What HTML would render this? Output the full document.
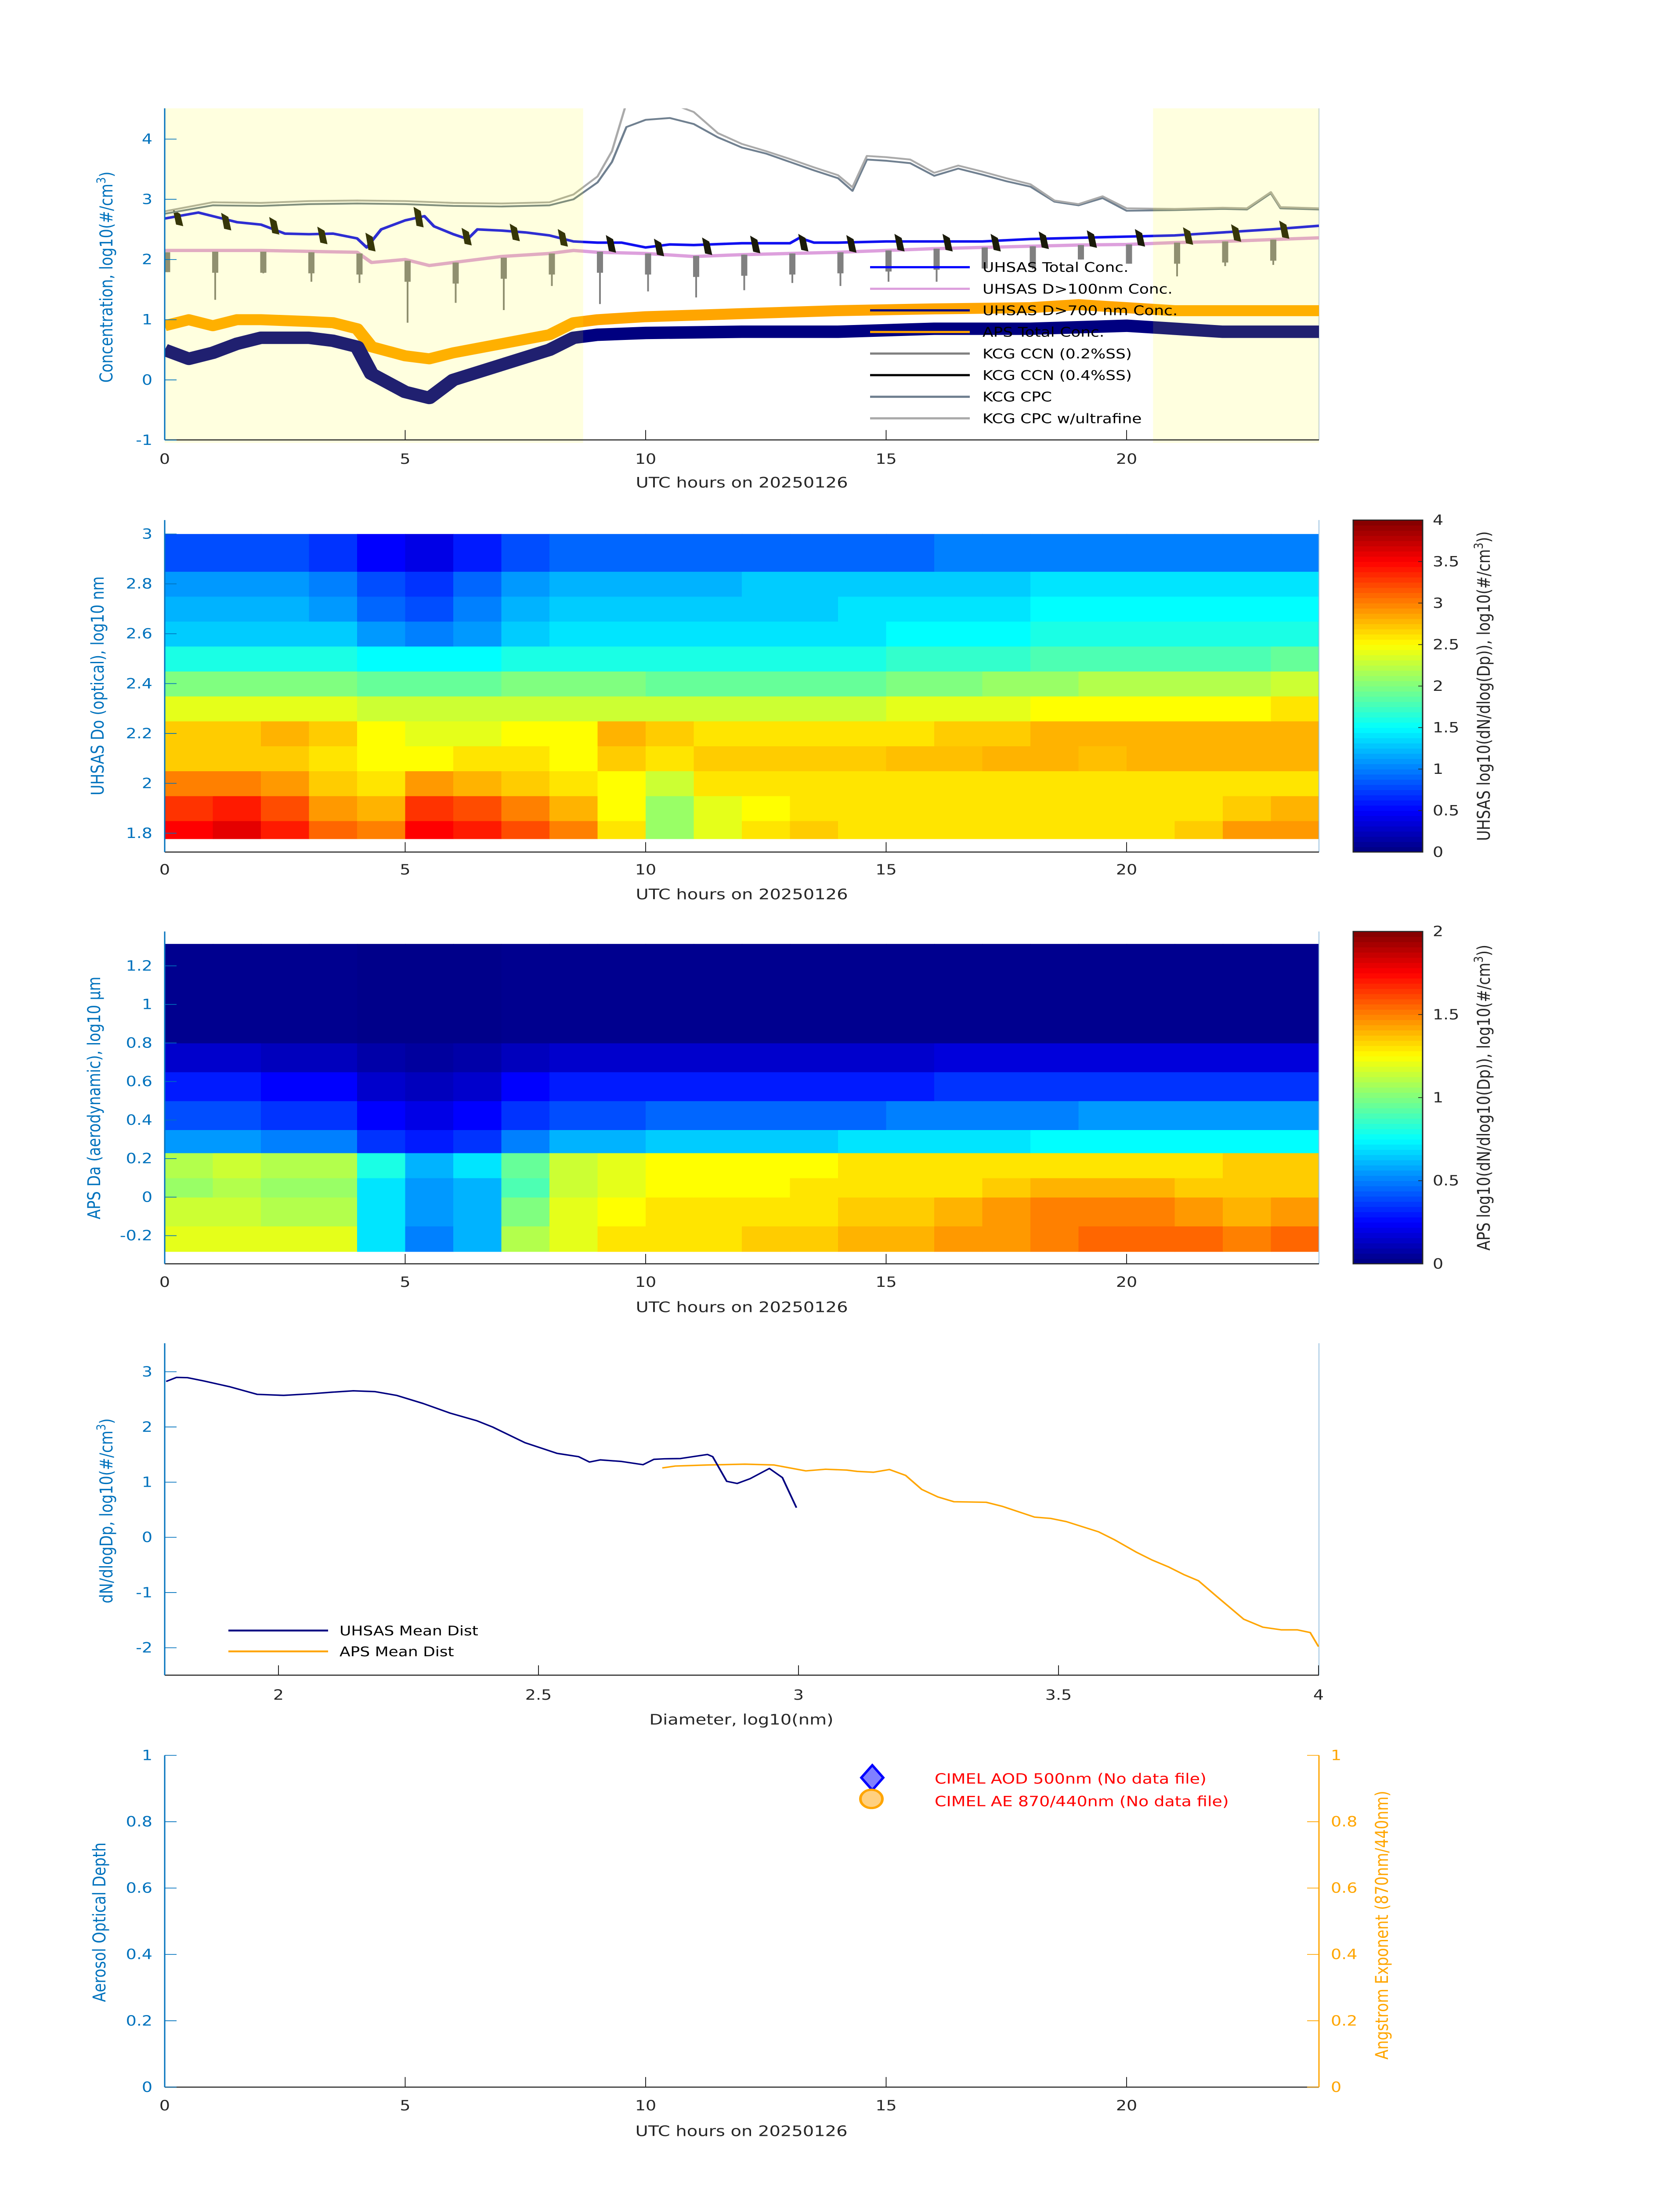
<!DOCTYPE html>
<html><head><meta charset="utf-8"><title>Aerosol summary 20250126</title>
<style>
html,body{margin:0;padding:0;background:#fff;width:100vw;height:100vh;overflow:hidden}
svg{display:block;width:100vw;height:100vh}
text{font-family:"DejaVu Sans","Liberation Sans",sans-serif}
</style></head>
<body>
<svg id="chart" xmlns="http://www.w3.org/2000/svg" viewBox="0 0 3825 6000" preserveAspectRatio="none">
<rect x="0" y="0" width="3825" height="6000" fill="#fff"/>
<defs>
<clipPath id="clip1"><rect x="375" y="296" width="2628" height="906"/></clipPath>
<clipPath id="clip4"><rect x="375" y="3670" width="2628" height="907"/></clipPath>
</defs>
<g id="p1"></g>
<g id="p2"></g>
<g id="p3"></g>
<g id="p4"></g>
<g id="p5"></g>
</svg>
<script>
// ---------------- Panel 1 data ----------------
const cpcTimes = [0,1,2,3,4,5,6,7,8,8.5,9,9.3,9.6,10,10.5,11,11.5,12,12.5,13,13.5,14,14.3,14.6,15,15.5,16,16.5,17,17.5,18,18.5,19,19.5,20,21,22,22.5,23,23.2,24];
const cpcVals = [2.76,2.9,2.89,2.92,2.93,2.92,2.89,2.88,2.9,3.0,3.28,3.62,4.2,4.32,4.35,4.25,4.03,3.86,3.76,3.62,3.48,3.35,3.14,3.66,3.64,3.6,3.39,3.51,3.41,3.3,3.21,2.96,2.9,3.02,2.81,2.82,2.84,2.83,3.1,2.85,2.83];
const cpcUfVals = [2.8,2.95,2.94,2.97,2.98,2.97,2.94,2.93,2.95,3.08,3.38,3.8,4.6,4.6,4.6,4.45,4.1,3.92,3.8,3.67,3.53,3.4,3.2,3.72,3.7,3.66,3.44,3.56,3.46,3.35,3.25,2.98,2.92,3.05,2.85,2.84,2.86,2.85,3.12,2.87,2.85];
const blueTimes = [0,0.7,1.5,2,2.5,3,3.5,4,4.2,4.5,5,5.4,5.6,6,6.3,6.5,7,7.5,8,8.5,9,9.5,10,10.5,11,12,13,13.2,13.5,14,15,16,17,18,19,20,21,22,23,24];
const blueVals = [2.68,2.78,2.62,2.58,2.43,2.42,2.43,2.35,2.2,2.5,2.65,2.72,2.55,2.42,2.34,2.5,2.48,2.45,2.4,2.3,2.28,2.28,2.2,2.25,2.24,2.27,2.27,2.36,2.28,2.28,2.3,2.3,2.3,2.34,2.36,2.38,2.4,2.45,2.5,2.56];
const pinkTimes = [0,2,4,4.3,5,5.5,6,6.5,7,8,8.5,9,10,11,12,13,14,15,16,17,18,19,20,21,22,23,24];
const pinkVals = [2.15,2.15,2.12,1.95,2.0,1.9,1.95,2.0,2.05,2.1,2.15,2.12,2.1,2.05,2.08,2.1,2.12,2.15,2.18,2.2,2.22,2.24,2.25,2.28,2.3,2.33,2.36];
const apsTimes = [0,0.5,1,1.5,2,3,3.5,4,4.3,5,5.5,6,7,8,8.5,9,10,12,14,16,18,19,20,21,22,23,24];
const apsVals = [0.9,1.0,0.9,1.0,1.0,0.97,0.95,0.85,0.55,0.4,0.35,0.45,0.6,0.75,0.95,1.0,1.05,1.1,1.15,1.18,1.2,1.25,1.2,1.15,1.15,1.15,1.15];
const navyTimes = [0,0.5,1,1.5,2,3,3.5,4,4.3,5,5.5,6,7,8,8.5,9,10,12,14,16,18,20,21,22,23,24];
const navyVals = [0.5,0.35,0.45,0.6,0.7,0.7,0.65,0.55,0.1,-0.2,-0.3,0.0,0.25,0.5,0.7,0.75,0.78,0.8,0.8,0.85,0.85,0.9,0.85,0.8,0.8,0.8];
const ccn02Times = [0.05,1.05,2.05,3.05,4.05,5.05,6.05,7.05,8.05,9.05,10.05,11.05,12.05,13.05,14.05,15.05,16.05,17.05,18.05,19.05,20.05,21.05,22.05,23.05];
const ccn02Base = [2.12,2.13,2.13,2.12,2.1,1.98,1.95,2.03,2.1,2.13,2.1,2.06,2.08,2.1,2.12,2.15,2.18,2.2,2.22,2.24,2.25,2.28,2.3,2.33];
const ccn02Min = [1.79,1.33,1.77,1.63,1.61,0.95,1.28,1.16,1.56,1.26,1.47,1.37,1.49,1.61,1.56,1.63,1.63,1.84,1.84,2.0,1.93,1.72,1.89,1.91];
const ccn04Times = [0.27,1.27,2.27,3.27,4.27,5.27,6.27,7.27,8.27,9.27,10.27,11.27,12.27,13.27,14.27,15.27,16.27,17.27,18.27,19.27,20.27,21.27,22.27,23.27];
const ccn04Hi = [2.8,2.75,2.68,2.52,2.42,2.85,2.5,2.57,2.48,2.38,2.32,2.34,2.37,2.4,2.38,2.4,2.4,2.4,2.44,2.46,2.48,2.51,2.56,2.62];
const ccn04Lo = [2.57,2.5,2.43,2.27,2.15,2.55,2.25,2.32,2.23,2.13,2.07,2.09,2.12,2.15,2.13,2.15,2.15,2.15,2.19,2.21,2.23,2.26,2.31,2.36];
const shadeStart = [0, 20.55];
const shadeEnd = [8.7, 24];
const p1YTicks = [-1,0,1,2,3,4];
const hourTicks = [0,5,10,15,20];
const p1LegendLabels = ["UHSAS Total Conc.","UHSAS D>100nm Conc.","UHSAS D>700 nm Conc.","APS Total Conc.","KCG CCN (0.2%SS)","KCG CCN (0.4%SS)","KCG CPC","KCG CPC w/ultrafine"];
const p1LegendColors = ["#0000ff","#dda0dd","#000080","#ffa500","#808080","#000000","#708090","#aaaaaa"];

// ---------------- Panel 2 data (UHSAS heatmap, rows bottom->top, hourly columns) ----------------
const uhsasEdges = [1.778,1.85,1.95,2.05,2.15,2.25,2.35,2.45,2.55,2.65,2.75,2.85,3.0];
const uhsasGrid = [
[3.5,3.6,3.4,3.1,3.0,3.5,3.4,3.2,3.0,2.6,2.1,2.4,2.6,2.7,2.6,2.6,2.6,2.6,2.6,2.6,2.6,2.7,2.9,2.9],
[3.3,3.4,3.2,2.9,2.8,3.3,3.2,3.0,2.8,2.5,2.1,2.4,2.5,2.6,2.6,2.6,2.6,2.6,2.6,2.6,2.6,2.6,2.7,2.8],
[3.0,3.0,2.9,2.7,2.6,2.9,2.8,2.7,2.6,2.5,2.3,2.6,2.6,2.6,2.6,2.6,2.6,2.6,2.6,2.6,2.6,2.6,2.6,2.6],
[2.7,2.7,2.7,2.6,2.5,2.5,2.6,2.6,2.5,2.7,2.6,2.7,2.7,2.7,2.7,2.75,2.75,2.8,2.8,2.75,2.8,2.8,2.8,2.8],
[2.7,2.7,2.8,2.7,2.5,2.4,2.4,2.5,2.5,2.8,2.7,2.6,2.6,2.6,2.6,2.6,2.7,2.7,2.8,2.8,2.8,2.8,2.8,2.8],
[2.4,2.4,2.4,2.4,2.3,2.3,2.3,2.3,2.3,2.3,2.3,2.3,2.3,2.3,2.3,2.4,2.4,2.4,2.5,2.5,2.5,2.5,2.5,2.6],
[2.0,2.0,2.0,2.0,1.9,1.9,1.9,2.0,2.0,2.0,1.9,1.9,1.9,1.9,1.9,2.0,2.0,2.1,2.1,2.2,2.2,2.2,2.2,2.3],
[1.6,1.6,1.6,1.6,1.5,1.5,1.5,1.6,1.6,1.6,1.6,1.6,1.6,1.6,1.6,1.7,1.7,1.7,1.8,1.8,1.8,1.8,1.8,1.9],
[1.3,1.3,1.3,1.3,1.1,1.0,1.1,1.3,1.4,1.4,1.4,1.4,1.4,1.4,1.4,1.5,1.5,1.5,1.6,1.6,1.6,1.6,1.6,1.6],
[1.2,1.2,1.2,1.1,0.9,0.8,1.0,1.2,1.3,1.3,1.3,1.3,1.3,1.3,1.4,1.4,1.4,1.4,1.5,1.5,1.5,1.5,1.5,1.5],
[1.1,1.1,1.1,1.0,0.8,0.7,0.9,1.1,1.2,1.2,1.2,1.2,1.3,1.3,1.3,1.3,1.3,1.3,1.4,1.4,1.4,1.4,1.4,1.4],
[0.8,0.8,0.8,0.7,0.5,0.4,0.6,0.8,0.9,0.9,0.9,0.9,0.9,0.9,0.9,0.9,1.0,1.0,1.0,1.0,1.0,1.0,1.0,1.0]
];
const uhsasYTicks = [1.8,2,2.2,2.4,2.6,2.8,3];
const uhsasCbTicks = [0,0.5,1,1.5,2,2.5,3,3.5,4];

// ---------------- Panel 3 data (APS heatmap) ----------------
const apsEdges = [-0.282,-0.15,0,0.1,0.23,0.35,0.5,0.65,0.8,1.314];
const apsGrid = [
[1.2,1.2,1.2,1.2,0.7,0.5,0.6,1.1,1.2,1.3,1.3,1.3,1.35,1.35,1.4,1.4,1.45,1.45,1.5,1.55,1.55,1.55,1.5,1.55],
[1.15,1.15,1.1,1.1,0.7,0.55,0.6,1.0,1.2,1.25,1.3,1.3,1.3,1.3,1.35,1.35,1.4,1.45,1.5,1.5,1.5,1.45,1.4,1.45],
[1.05,1.1,1.05,1.05,0.7,0.55,0.6,0.9,1.15,1.2,1.25,1.25,1.25,1.3,1.3,1.3,1.3,1.35,1.4,1.4,1.4,1.35,1.35,1.35],
[1.1,1.15,1.1,1.1,0.8,0.6,0.7,0.95,1.15,1.2,1.25,1.25,1.25,1.25,1.3,1.3,1.3,1.3,1.3,1.3,1.3,1.3,1.35,1.35],
[0.55,0.55,0.5,0.5,0.35,0.3,0.35,0.5,0.6,0.6,0.65,0.65,0.65,0.65,0.7,0.7,0.7,0.7,0.75,0.75,0.75,0.75,0.75,0.75],
[0.4,0.4,0.35,0.35,0.25,0.2,0.25,0.35,0.4,0.4,0.45,0.45,0.45,0.45,0.45,0.5,0.5,0.5,0.5,0.55,0.55,0.55,0.55,0.55],
[0.3,0.3,0.25,0.25,0.15,0.12,0.15,0.25,0.3,0.3,0.3,0.3,0.3,0.3,0.3,0.3,0.35,0.35,0.35,0.35,0.35,0.35,0.35,0.35],
[0.15,0.15,0.12,0.12,0.08,0.06,0.08,0.12,0.15,0.15,0.15,0.15,0.15,0.15,0.15,0.15,0.18,0.18,0.18,0.18,0.18,0.18,0.18,0.18],
[0.03,0.03,0.03,0.03,0.02,0.02,0.02,0.03,0.03,0.03,0.03,0.03,0.03,0.03,0.03,0.03,0.03,0.03,0.03,0.03,0.03,0.03,0.03,0.03]
];
const apsYTicks = [-0.2,0,0.2,0.4,0.6,0.8,1,1.2];
const apsCbTicks = [0,0.5,1,1.5,2];

// ---------------- Panel 4 data ----------------
const uhsasDiam = [1.784,1.804,1.825,1.856,1.907,1.959,2.010,2.062,2.103,2.144,2.186,2.227,2.278,2.330,2.381,2.412,2.474,2.536,2.577,2.598,2.619,2.660,2.701,2.722,2.742,2.773,2.825,2.835,2.862,2.882,2.907,2.944,2.969,2.996];
const uhsasMean = [2.825,2.898,2.893,2.835,2.727,2.591,2.572,2.601,2.630,2.655,2.640,2.572,2.426,2.251,2.114,1.998,1.715,1.521,1.462,1.365,1.404,1.375,1.316,1.414,1.423,1.428,1.501,1.462,1.015,0.976,1.063,1.248,1.083,0.538];
const apsDiam = [2.738,2.763,2.825,2.897,2.953,3.014,3.052,3.093,3.113,3.144,3.175,3.206,3.237,3.268,3.299,3.361,3.392,3.454,3.485,3.515,3.577,3.608,3.649,3.680,3.711,3.742,3.769,3.804,3.856,3.893,3.928,3.959,3.984,4.0];
const apsMean = [1.258,1.292,1.311,1.326,1.311,1.204,1.234,1.219,1.195,1.180,1.229,1.122,0.869,0.732,0.645,0.635,0.562,0.367,0.343,0.285,0.100,-0.046,-0.265,-0.411,-0.533,-0.679,-0.786,-1.068,-1.482,-1.628,-1.676,-1.676,-1.725,-1.98];
const p4XTicks = [2,2.5,3,3.5,4];
const p4YTicks = [-2,-1,0,1,2,3];

// ---------------- Panel 5 data ----------------
const p5YTicks = [0,0.2,0.4,0.6,0.8,1];

// ---------------- helpers ----------------
const NS = 'http://www.w3.org/2000/svg';
function mk(tag, attrs, parent) {
  const e = document.createElementNS(NS, tag);
  for (const k in attrs) e.setAttribute(k, attrs[k]);
  parent.appendChild(e);
  return e;
}
function txt(parent, x, y, s, size, color, anchor, extra) {
  const e = mk('text', Object.assign({x: x, y: y, 'font-size': size, fill: color, 'text-anchor': anchor || 'middle'}, extra || {}), parent);
  e.textContent = s;
  return e;
}
function fmt(v) { return (Math.round(v * 10) / 10).toString(); }
function jet(t) {
  t = Math.max(0, Math.min(1, t));
  const c = f => Math.round(255 * Math.max(0, Math.min(1, f)));
  return 'rgb(' + c(1.5 - Math.abs(4 * t - 3)) + ',' + c(1.5 - Math.abs(4 * t - 2)) + ',' + c(1.5 - Math.abs(4 * t - 1)) + ')';
}
function pathD(xsArr, ysArr, fx, fy) {
  let d = '';
  for (let i = 0; i < xsArr.length; i++) d += (i ? 'L' : 'M') + fx(xsArr[i]).toFixed(1) + ',' + fy(ysArr[i]).toFixed(1);
  return d;
}
const AX_L = 375, AX_R = 3003;
const BLUE = '#0072BD', DARK = '#262626';
const xh = h => AX_L + h * (AX_R - AX_L) / 24;

function hourAxis(g, yBottom, yTop, tickLabelY, labelY) {
  const ax = mk('line', {x1: AX_L, y1: yBottom, x2: AX_R, y2: yBottom, stroke: DARK, 'stroke-width': 3}, g);
  
  
  hourTicks.forEach(h => {
    const t = mk('line', {x1: xh(h), y1: yBottom, x2: xh(h), y2: yBottom - 27, stroke: DARK, 'stroke-width': 2}, g);
    
    
    const l = txt(g, xh(h), tickLabelY, String(h), 38, DARK);
    
    
  });
  const xl = txt(g, (AX_L + AX_R) / 2, labelY, 'UTC hours on 20250126', 40, DARK);
  
  
  const la = mk('line', {x1: AX_L, y1: yTop, x2: AX_L, y2: yBottom, stroke: BLUE, 'stroke-width': 3}, g);
  
  
}
function yTicks(g, ticks, fy, digits) {
  ticks.forEach(v => {
    const t = mk('line', {x1: AX_L, y1: fy(v), x2: AX_L + 27, y2: fy(v), stroke: BLUE, 'stroke-width': 2}, g);
    
    
    const l = txt(g, 347, fy(v) + 13, digits ? fmt(v) : String(v), 38, BLUE, 'end');
    
    
  });
}
function yTitle(g, x, y, s, color, sup) {
  const e = mk('text', {x: x, y: y, 'font-size': 40, fill: color, 'text-anchor': 'middle', transform: 'rotate(-90 ' + x + ' ' + y + ')'}, g);
  e.appendChild(document.createTextNode(s));
  if (sup) {
    const sp = mk('tspan', {'baseline-shift': 'super', 'font-size': 28}, e);
    sp.textContent = '3';
    e.appendChild(document.createTextNode(sup));
  }
  return e;
}

// ---------------- Panel 1 ----------------
(function () {
  const g = document.getElementById('p1');
  const fy = v => 1038 - v * 164.5;
  const rb = mk('line', {x1: AX_R, y1: 296, x2: AX_R, y2: 1202, stroke: '#bcd', 'stroke-width': 2}, g);
  
  
  const cg = mk('g', {'clip-path': 'url(#clip1)'}, g);
  
  
  const s1 = mk('path', {d: pathD(apsTimes, apsVals, xh, fy), fill: 'none', stroke: '#ffa500', 'stroke-width': 30, 'stroke-linejoin': 'round'}, cg);
  
  
  const s2 = mk('path', {d: pathD(navyTimes, navyVals, xh, fy), fill: 'none', stroke: '#000080', 'stroke-width': 34, 'stroke-linejoin': 'round'}, cg);
  
  
  const s3 = mk('path', {d: pathD(pinkTimes, pinkVals, xh, fy), fill: 'none', stroke: '#dda0dd', 'stroke-width': 9, 'stroke-linejoin': 'round'}, cg);
  
  
  const s4 = mk('path', {d: pathD(blueTimes, blueVals, xh, fy), fill: 'none', stroke: '#1010f0', 'stroke-width': 7, 'stroke-linejoin': 'round'}, cg);
  
  
  ccn02Times.forEach((t, i) => {
    const th = mk('rect', {x: xh(t) - 7, y: fy(ccn02Base[i]), width: 14, height: Math.max(0, Math.min(0.35, ccn02Base[i] - ccn02Min[i])) * 164.5, fill: '#808080'}, cg);
    
    
    const ln = mk('line', {x1: xh(t), y1: fy(ccn02Base[i]), x2: xh(t), y2: fy(ccn02Min[i]), stroke: '#808080', 'stroke-width': 4}, cg);
    
    
  });
  ccn04Times.forEach((t, i) => {
    const x = xh(t);
    const p = mk('polygon', {points: (x - 8) + ',' + fy(ccn04Hi[i]) + ' ' + (x + 4) + ',' + fy(ccn04Hi[i] - 0.05) + ' ' + (x + 10) + ',' + fy(ccn04Lo[i]) + ' ' + (x - 2) + ',' + fy(ccn04Lo[i] + 0.02), fill: '#1a1a0a', stroke: '#1a1a0a', 'stroke-width': 4}, cg);
    
    
  });
  const s5 = mk('path', {d: pathD(cpcTimes, cpcVals, xh, fy), fill: 'none', stroke: '#708090', 'stroke-width': 5, 'stroke-linejoin': 'round'}, cg);
  
  
  const s6 = mk('path', {d: pathD(cpcTimes, cpcUfVals, xh, fy), fill: 'none', stroke: '#aaaaaa', 'stroke-width': 5, 'stroke-linejoin': 'round'}, cg);
  
  
  shadeStart.forEach((s, i) => {
    const r = mk('rect', {x: xh(s), y: 296, width: xh(shadeEnd[i]) - xh(s), height: 914, fill: 'rgb(255,255,0)', 'fill-opacity': 0.125}, g);
    
    
  });
  hourAxis(g, 1202, 296, 1267, 1332);
  yTicks(g, p1YTicks, fy, false);
  const yt = yTitle(g, 256, 757, 'Concentration, log10(#/cm', BLUE, ')');
  
  
  p1LegendLabels.forEach((lab, i) => {
    const y = 730 + i * 59;
    const ln = mk('line', {x1: 1981, y1: y, x2: 2208, y2: y, stroke: p1LegendColors[i], 'stroke-width': 6}, g);
    
    
    const t = txt(g, 2237, y + 13, lab, 36, '#000', 'start');
    
    
  });
})();

// ---------------- heatmap builder ----------------
function heatmap(g, edges, grid, fy, vmax, cbTicks, yTop, yBot, dataTop, dataBot, cbLabel, cbLabelName) {
  const cw = (AX_R - AX_L) / 24;
  grid.forEach((row, r) => {
    row.forEach((v, c) => {
      const y1 = fy(edges[r + 1]), y2 = fy(edges[r]);
      const cell = mk('rect', {x: (xh(c)).toFixed(1), y: y1.toFixed(1), width: (cw + 1).toFixed(1), height: (y2 - y1 + 1).toFixed(1), fill: jet(v / vmax)}, g);
      
      
    });
  });
  const rb = mk('line', {x1: AX_R, y1: yTop, x2: AX_R, y2: yBot, stroke: '#9cc3e0', 'stroke-width': 2}, g);
  
  
  const cx = 3081, cwid = 158, n = 64, h = (yBot - yTop) / n;
  for (let i = 0; i < n; i++) {
    const s = mk('rect', {x: cx, y: (yBot - (i + 1) * h).toFixed(1), width: cwid, height: (h + 0.8).toFixed(1), fill: jet((i + 0.5) / n)}, g);
    
    
  }
  const fr = mk('rect', {x: cx, y: yTop, width: cwid, height: yBot - yTop, fill: 'none', stroke: DARK, 'stroke-width': 3}, g);
  
  
  cbTicks.forEach(v => {
    const y = yBot - v / vmax * (yBot - yTop);
    const tk = mk('line', {x1: cx + cwid - 10, y1: y, x2: cx + cwid, y2: y, stroke: DARK, 'stroke-width': 2}, g);
    
    
    const l = txt(g, 3262, y + 13, String(v), 38, DARK, 'start');
    
    
  });
  const lt = yTitle(g, 3392, (yTop + yBot) / 2, cbLabel, DARK, '))');
  
  
}

// ---------------- Panel 2 ----------------
(function () {
  const g = document.getElementById('p2');
  const fy = d => 1459 + (3 - d) * 681.25;
  heatmap(g, uhsasEdges, uhsasGrid, fy, 4, uhsasCbTicks, 1421, 2328, 1459, 2291, 'UHSAS log10(dN/dlog(Dp)), log10(#/cm', 'colorbar-title');
  hourAxis(g, 2328, 1421, 2389, 2457);
  yTicks(g, uhsasYTicks, fy, true);
  const yt = yTitle(g, 236, 1874, 'UHSAS Do (optical), log10 nm', BLUE);
  
  
})();

// ---------------- Panel 3 ----------------
(function () {
  const g = document.getElementById('p3');
  const fy = d => 2639 + (1.2 - d) * 526.5;
  heatmap(g, apsEdges, apsGrid, fy, 2, apsCbTicks, 2545, 3453, 2579, 3419, 'APS log10(dN/dlog10(Dp)), log10(#/cm', 'colorbar-title');
  hourAxis(g, 3453, 2545, 3516, 3585);
  yTicks(g, apsYTicks, fy, true);
  const yt = yTitle(g, 228, 3000, 'APS Da (aerodynamic), log10 \u03bcm', BLUE);
  
  
})();

// ---------------- Panel 4 ----------------
(function () {
  const g = document.getElementById('p4');
  const fx = d => 634 + (d - 2) * 1184;
  const fy = v => 3748 + (3 - v) * 150.8;
  const rb = mk('line', {x1: AX_R, y1: 3670, x2: AX_R, y2: 4577, stroke: '#9cc3e0', 'stroke-width': 2}, g);
  
  
  const cg = mk('g', {'clip-path': 'url(#clip4)'}, g);
  
  
  const a = mk('path', {d: pathD(apsDiam, apsMean, fx, fy), fill: 'none', stroke: '#ffa500', 'stroke-width': 4, 'stroke-linejoin': 'round'}, cg);
  
  
  const u = mk('path', {d: pathD(uhsasDiam, uhsasMean, fx, fy), fill: 'none', stroke: '#000080', 'stroke-width': 4, 'stroke-linejoin': 'round'}, cg);
  
  
  const ax = mk('line', {x1: AX_L, y1: 4577, x2: AX_R, y2: 4577, stroke: DARK, 'stroke-width': 3}, g);
  
  
  p4XTicks.forEach(d => {
    const t = mk('line', {x1: fx(d), y1: 4577, x2: fx(d), y2: 4550, stroke: DARK, 'stroke-width': 2}, g);
    
    
    const l = txt(g, fx(d), 4644, String(d), 38, DARK);
    
    
  });
  const xl = txt(g, 1688, 4712, 'Diameter,  log10(nm)', 40, DARK);
  
  
  const la = mk('line', {x1: AX_L, y1: 3670, x2: AX_L, y2: 4577, stroke: BLUE, 'stroke-width': 3}, g);
  
  
  yTicks(g, p4YTicks, fy, false);
  const yt = yTitle(g, 256, 4128, 'dN/dlogDp, log10(#/cm', BLUE, ')');
  
  
  const labs = ['UHSAS Mean Dist', 'APS Mean Dist'], cols = ['#000080', '#ffa500'];
  labs.forEach((s, i) => {
    const y = 4455 + i * 57;
    const ln = mk('line', {x1: 520, y1: y, x2: 747, y2: y, stroke: cols[i], 'stroke-width': 5}, g);
    
    
    const t = txt(g, 773, y + 13, s, 36, '#000', 'start');
    
    
  });
})();

// ---------------- Panel 5 ----------------
(function () {
  const g = document.getElementById('p5');
  const fy = v => 5702.5 - v * 906.5;
  const ax = mk('line', {x1: AX_L, y1: 5702.5, x2: AX_R, y2: 5702.5, stroke: DARK, 'stroke-width': 3}, g);
  
  
  hourTicks.forEach(h => {
    const t = mk('line', {x1: xh(h), y1: 5702.5, x2: xh(h), y2: 5675, stroke: DARK, 'stroke-width': 2}, g);
    
    
    const l = txt(g, xh(h), 5766, String(h), 38, DARK);
    
    
  });
  const xl = txt(g, 1688, 5836, 'UTC hours on 20250126', 40, DARK);
  
  
  const la = mk('line', {x1: AX_L, y1: fy(1), x2: AX_L, y2: 5702.5, stroke: BLUE, 'stroke-width': 3}, g);
  
  
  const ra = mk('line', {x1: AX_R, y1: fy(1), x2: AX_R, y2: 5702.5, stroke: '#ffa500', 'stroke-width': 3}, g);
  
  
  yTicks(g, p5YTicks, fy, true);
  p5YTicks.forEach(v => {
    const t = mk('line', {x1: AX_R - 27, y1: fy(v), x2: AX_R, y2: fy(v), stroke: '#ffa500', 'stroke-width': 2}, g);
    
    
    const l = txt(g, 3030, fy(v) + 13, fmt(v), 38, '#ffa500', 'start');
    
    
  });
  const yt = yTitle(g, 240, 5252, 'Aerosol Optical Depth', BLUE);
  
  
  const yr = yTitle(g, 3160, 5260, 'Angstrom Exponent (870nm/440nm)', '#ffa500');
  
  
  const dm = mk('polygon', {points: '1986,4823 2011,4857 1986,4891 1961,4857', fill: '#8080ff', stroke: '#0000ff', 'stroke-width': 6}, g);
  
  
  const ci = mk('ellipse', {cx: 1984, cy: 4915, rx: 25, ry: 25, fill: '#ffd080', stroke: '#ffa500', 'stroke-width': 6}, g);
  
  
  const t1 = txt(g, 2128, 4873, 'CIMEL AOD 500nm (No data file)', 38, '#ff0000', 'start');
  
  
  const t2 = txt(g, 2128, 4935, 'CIMEL AE 870/440nm (No data file)', 38, '#ff0000', 'start');
  
  
})();
</script>
</body></html>
